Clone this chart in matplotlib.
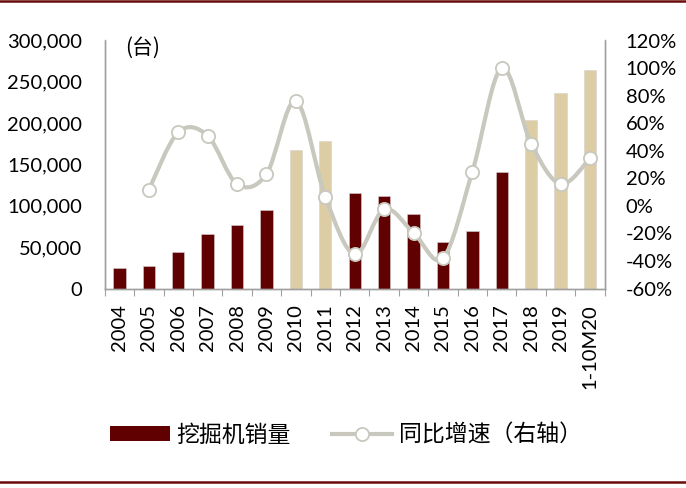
import numpy as np
import matplotlib
matplotlib.use("Agg")
import matplotlib.pyplot as plt
from matplotlib.path import Path
from matplotlib.patches import PathPatch, Patch
from matplotlib.lines import Line2D
from matplotlib.ticker import FuncFormatter, MultipleLocator

plt.rcParams['font.family'] = ['Lato', 'Noto Sans CJK SC', 'DejaVu Sans']

categories = ["2004", "2005", "2006", "2007", "2008", "2009", "2010", "2011", "2012",
              "2013", "2014", "2015", "2016", "2017", "2018", "2019", "1-10M20"]
sales = [24600, 27800, 43800, 65900, 76800, 94600, 167900, 178800, 115200,
         112300, 90100, 56300, 69600, 140600, 204200, 236900, 264700]
growth = [None, 11.7, 53.4, 50.9, 15.8, 23.1, 76.1, 6.6, -35.2,
          -2.5, -19.5, -38.1, 24.8, 100.0, 45.1, 15.8, 34.5]
highlight = ["2010", "2011", "2018", "2019", "1-10M20"]

dark_red = "#600000"
beige = "#DDCDA5"
line_gray = "#C8C8BE"
spine_gray = "#A0A0A0"

fig = plt.figure(figsize=(6.86, 4.88), dpi=100)
ax = fig.add_axes([104.7/686, 1-288.5/488, 500/686, 248/488])
ax2 = ax.twinx()

x = np.arange(len(categories))
colors = [beige if c in highlight else dark_red for c in categories]
ax.bar(x, sales, width=0.42, color=colors, edgecolor="#D8D0D0", linewidth=0.4, zorder=2)
ax.set_xlim(-0.5, len(categories)-0.5)
ax.set_ylim(0, 300000)
ax.yaxis.set_major_locator(MultipleLocator(50000))
ax.yaxis.set_major_formatter(FuncFormatter(lambda v, p: f"{int(v):,}"))
ax.set_xticks(x)
ax.set_xticklabels(categories, rotation=90)
ax.set_xticks(np.arange(-0.5, len(categories)), minor=True)
ax.tick_params(axis='x', which='major', length=0, pad=11, labelsize=14.5)
ax.tick_params(axis='x', which='minor', length=5, width=0.8, color=spine_gray, direction='out')
ax.tick_params(axis='y', length=0, pad=16, labelsize=14.5)

ax2.set_ylim(-60, 120)
ax2.yaxis.set_major_locator(MultipleLocator(20))
ax2.yaxis.set_major_formatter(FuncFormatter(lambda v, p: f"{int(round(v))}%"))
ax2.tick_params(axis='y', length=0, pad=15, labelsize=14.5)

for a in (ax, ax2):
    a.spines['top'].set_visible(False)
    for s in ('left', 'right', 'bottom'):
        a.spines[s].set_color(spine_gray)
        a.spines[s].set_linewidth(1.0)

# smooth line (Catmull-Rom style Bezier, like Excel's smoothed line)
pts = [(xi, g) for xi, g in zip(x, growth) if g is not None]
P = np.array(pts, dtype=float)
verts = [tuple(P[0])]
codes = [Path.MOVETO]
n = len(P)
for i in range(n-1):
    p0 = P[i-1] if i > 0 else P[i]
    p1 = P[i]
    p2 = P[i+1]
    p3 = P[i+2] if i+2 < n else P[i+1]
    c1 = p1 + (p2 - p0)/6.0
    c2 = p2 - (p3 - p1)/6.0
    verts += [tuple(c1), tuple(c2), tuple(p2)]
    codes += [Path.CURVE4]*3
path = Path(verts, codes)
ax2.add_patch(PathPatch(path, facecolor='none', edgecolor=line_gray, linewidth=3.0, zorder=3,
                        capstyle='round', joinstyle='round'))
ax2.plot(P[:, 0], P[:, 1], linestyle='none', marker='o', markersize=9.5,
         markerfacecolor='white', markeredgecolor=line_gray, markeredgewidth=1.3, zorder=4)

ax.text(0.04, 0.97, "(台)", transform=ax.transAxes, fontsize=15, va='center', ha='left',
        family=['Noto Sans CJK SC', 'DejaVu Sans'])

handles = [Patch(facecolor=dark_red, edgecolor='none'),
           Line2D([], [], color=line_gray, linewidth=3.0, marker='o', markersize=9.5,
                  markerfacecolor='white', markeredgecolor=line_gray, markeredgewidth=1.3)]
leg = fig.legend(handles, ["挖掘机销量", "同比增速（右轴）"], loc='center left',
                 bbox_to_anchor=(110/686, 1-435/488), ncol=2, frameon=False,
                 prop={'family': ['Noto Sans CJK SC'], 'size': 16.5},
                 handlelength=2.6, handleheight=0.62, handletextpad=0.3, columnspacing=1.8,
                 borderaxespad=0, borderpad=0)

fig.add_artist(Line2D([0, 1], [1-1/488, 1-1/488], color="#6B0A0A", linewidth=1.8, transform=fig.transFigure))
fig.add_artist(Line2D([0, 1], [1-482/488, 1-482/488], color="#6B0A0A", linewidth=1.8, transform=fig.transFigure))

fig.savefig("out.png", dpi=100)
